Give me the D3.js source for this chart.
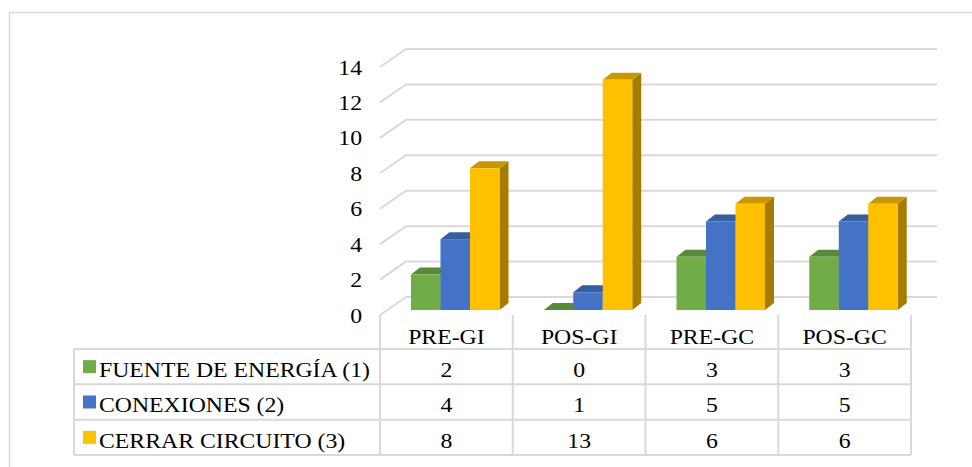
<!DOCTYPE html>
<html>
<head>
<meta charset="utf-8">
<script src="https://cdn.jsdelivr.net/npm/d3@7"></script>
<style>
  html, body { margin: 0; padding: 0; background: #fff; }
  svg { display: block; }
</style>
</head>
<body>
<svg id="chart" width="972" height="467"></svg>
<script>
// ---- data ----
const categories = ["PRE-GI", "POS-GI", "PRE-GC", "POS-GC"];
const seriesNames = ["FUENTE DE ENERGÍA (1)", "CONEXIONES (2)", "CERRAR CIRCUITO (3)"];
const fuenteEnergia = [2, 0, 3, 3];
const conexiones = [4, 1, 5, 5];
const cerrarCircuito = [8, 13, 6, 6];
const yTicks = [0, 2, 4, 6, 8, 10, 12, 14];

const seriesValues = [fuenteEnergia, conexiones, cerrarCircuito];
const frontColors = ["#70ad47", "#4472c4", "#ffc000"];
const topColors = ["#5a8a39", "#375e9f", "#c99800"];
const sideColors = ["#4f7a32", "#2f5289", "#a67c00"];

const FF = "'Liberation Serif', 'Times New Roman', Tinos, 'DejaVu Serif', serif";
const svg = d3.select("#chart");
const FONT = 22, SX = 1.08;

function label(sel, tx, ty, anchor, txt) {
  return sel.append("text")
    .attr("transform", `translate(${tx},${ty}) scale(${SX},1)`)
    .attr("text-anchor", anchor)
    .attr("font-family", FF)
    .attr("font-size", FONT)
    .attr("fill", "#000")
    .style("font-family", FF)
    .text(txt);
}

// outer border
svg.append("path").attr("d", "M9.5,470 L9.5,12.5 L975,12.5")
  .attr("fill", "none").attr("stroke", "#d9d9d9").attr("stroke-width", 1.5);

// scales (front plane)
const x = d3.scaleBand().domain(categories).range([380, 911]).padding(0);
const y = d3.scaleLinear().domain([0, 14]).range([315, 67]);
const DX = 26, DY = -18;          // depth of floor / back wall
const BF = {dx: 7, dy: -5};        // bar front face depth
const BD = {dx: 9, dy: -7};        // bar depth
const inner = d3.scaleBand().domain(d3.range(seriesNames.length)).range([24, 112.5]).padding(0);

const grid = svg.append("g").attr("fill", "none").attr("stroke", "#d9d9d9").attr("stroke-width", 2);
yTicks.forEach(v => {
  const yy = y(v);
  grid.append("path").attr("d", `M${x.range()[0]},${yy} L${x.range()[0] + DX},${yy + DY} L937,${yy + DY}`);
});

// tick labels
const tickG = svg.append("g");
yTicks.forEach(v => label(tickG, 362, y(v) + 7.5, "end", v));

// bars
const barsG = svg.append("g");
categories.forEach((c, ci) => {
  seriesValues.forEach((vals, si) => {
    const v = vals[ci];
    const x0 = x(c) + inner(si) + BF.dx;
    const w = inner.bandwidth();
    const yb = y(0) + BF.dy;
    const yt = y(v) + BF.dy;
    const g = barsG.append("g");
    g.append("path").attr("d",
      `M${x0 + w},${yb} L${x0 + w + BD.dx},${yb + BD.dy} L${x0 + w + BD.dx},${yt + BD.dy} L${x0 + w},${yt} Z`)
      .attr("fill", sideColors[si]);
    g.append("path").attr("d",
      `M${x0},${yt} L${x0 + BD.dx},${yt + BD.dy} L${x0 + w + BD.dx},${yt + BD.dy} L${x0 + w},${yt} Z`)
      .attr("fill", topColors[si]);
    if (v > 0) {
      g.append("rect").attr("x", x0).attr("y", yt).attr("width", w).attr("height", yb - yt)
        .attr("fill", frontColors[si]);
    }
  });
});

// data table
const rowTops = [349, 384.3, 419.7, 455];
const tableLeft = 74, tableRight = x.range()[1];
const tbl = svg.append("g").attr("stroke", "#d9d9d9").attr("stroke-width", 2).attr("fill", "none");
rowTops.forEach(ry => {
  tbl.append("line").attr("x1", tableLeft).attr("x2", tableRight).attr("y1", ry).attr("y2", ry);
});
tbl.append("line").attr("x1", tableLeft).attr("x2", tableLeft).attr("y1", rowTops[0]).attr("y2", rowTops[3]);
categories.forEach(c => {
  tbl.append("line").attr("x1", x(c)).attr("x2", x(c)).attr("y1", y(0)).attr("y2", rowTops[3]);
});
tbl.append("line").attr("x1", tableRight).attr("x2", tableRight).attr("y1", y(0)).attr("y2", rowTops[3]);

// header labels
const textG = svg.append("g");
categories.forEach(c => label(textG, x(c) + x.bandwidth() / 2, 344, "middle", c));

// rows
seriesNames.forEach((name, si) => {
  const top = rowTops[si];
  const mid = (top + rowTops[si + 1]) / 2;
  svg.append("rect").attr("x", 83).attr("y", mid - 6.5).attr("width", 13).attr("height", 13)
    .attr("fill", frontColors[si]);
  label(textG, 99, top + 28, "start", name);
  categories.forEach((c, ci) => label(textG, x(c) + x.bandwidth() / 2, top + 28, "middle", seriesValues[si][ci]));
});
</script>
</body>
</html>
